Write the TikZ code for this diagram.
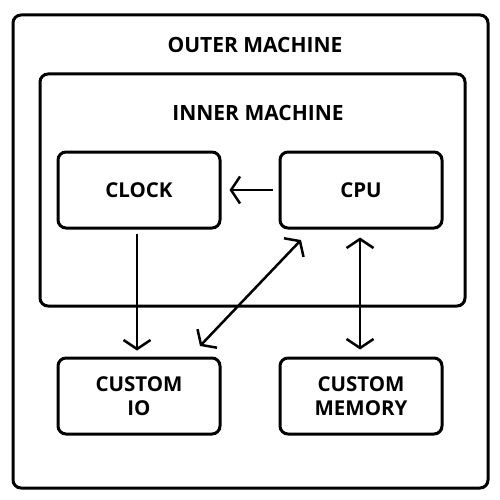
\documentclass[tikz,border=0pt]{standalone}
\usepackage{fontspec}
\setmainfont{Open Sans}
\usetikzlibrary{arrows.meta}
\usetikzlibrary{positioning}

\tikzset{
  frame/.style={draw, line width=3pt, rounded corners=8pt},
  unit/.style={draw, line width=3pt, rounded corners=8pt, minimum width=162pt, minimum height=76pt, align=center, inner sep=0pt, font=\bfseries\fontsize{20.5}{24}\selectfont},
  link/.style={line width=2.5pt, -{Straight Barb[length=9pt, width=27pt, line width=2.5pt]}},
  twolink/.style={line width=2.5pt, {Straight Barb[length=9pt, width=27pt, line width=2.5pt]}-{Straight Barb[length=9pt, width=27pt, line width=2.5pt]}},
  title/.style={font=\bfseries\fontsize{21}{24}\selectfont}
}

\begin{document}
\begin{tikzpicture}[x=1pt, y=-1pt]
\useasboundingbox (0,0) rectangle (500,500);
% machines
\draw[frame] (13,15) rectangle (488,488);
\node[title] (outer) at (255,45) {OUTER MACHINE};
\draw[frame] (40,74) rectangle (465,306);
\node[title] (inner) at (258,113) {INNER MACHINE};
% units
\node[unit] (clock) at (139,190) {CLOCK};
\node[unit] (cpu) at (361,190) {CPU};
\node[unit] (io) at (139,396) {CUSTOM\\IO};
\node[unit] (mem) at (361,396) {CUSTOM\\MEMORY};
% connectors
\coordinate (cpuend) at (301,240);
\coordinate (ioend) at (200,346);
\draw[link, shorten <=6pt, shorten >=8pt] (cpu.west) -- (clock.east);
\draw[link, shorten <=4pt, shorten >=6pt] (clock.south -| 137,0) -- (io.north -| 137,0);
\draw[twolink] (ioend) -- (cpuend);
\draw[twolink, shorten <=8pt, shorten >=7pt] (cpu.south -| 360,0) -- (mem.north -| 360,0);
\end{tikzpicture}
\end{document}
